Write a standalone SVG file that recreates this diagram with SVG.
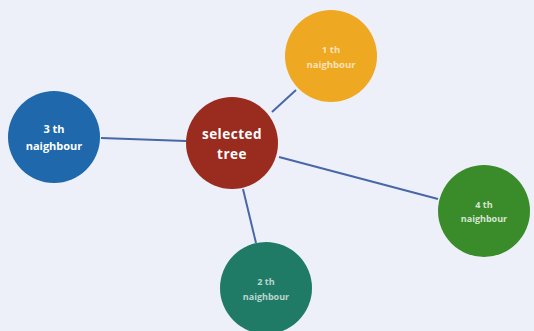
<svg xmlns="http://www.w3.org/2000/svg" width="534" height="331" viewBox="0 0 534 331">
<style>
.lbl{font-family:"Open Sans","Liberation Sans",sans-serif;font-weight:bold;text-anchor:middle;fill:#ffffff}
.edge{stroke:#4767a6;stroke-width:2;fill:none}
</style>
<rect width="534" height="331" fill="#eef0f9"/>
<g id="connectors">
<line class="edge" x1="272" y1="112" x2="296" y2="90"/>
<line class="edge" x1="101" y1="138" x2="186" y2="141"/>
<line class="edge" x1="279" y1="157" x2="438" y2="199"/>
<line class="edge" x1="243" y1="189" x2="256" y2="243"/>
</g>
<g id="selected">
<circle cx="232" cy="143" r="46" fill="#9a2b1f"/>
<text class="lbl" x="232" y="139" font-size="13.5" letter-spacing="0.5">selected</text>
<text class="lbl" x="232" y="159" font-size="13.5" letter-spacing="0.5">tree</text>
</g>
<g id="n1">
<circle cx="331" cy="56" r="46" fill="#efa821"/>
<text class="lbl" x="331" y="53" font-size="9.5" fill-opacity="0.7">1 th</text>
<text class="lbl" x="331" y="68" font-size="9.5" fill-opacity="0.7">naighbour</text>
</g>
<g id="n3">
<circle cx="54" cy="137" r="46" fill="#1e68ab"/>
<text class="lbl" x="54" y="133" font-size="11">3 th</text>
<text class="lbl" x="54" y="150" font-size="11">naighbour</text>
</g>
<g id="n4">
<circle cx="484" cy="211" r="46" fill="#3a8c2a"/>
<text class="lbl" x="484" y="208" font-size="9" fill-opacity="0.8">4 th</text>
<text class="lbl" x="484" y="222" font-size="9" fill-opacity="0.8">naighbour</text>
</g>
<g id="n2">
<circle cx="266" cy="288" r="46" fill="#1f7b66"/>
<text class="lbl" x="266" y="285" font-size="9" fill-opacity="0.7">2 th</text>
<text class="lbl" x="266" y="300" font-size="9" fill-opacity="0.7">naighbour</text>
</g>
</svg>
